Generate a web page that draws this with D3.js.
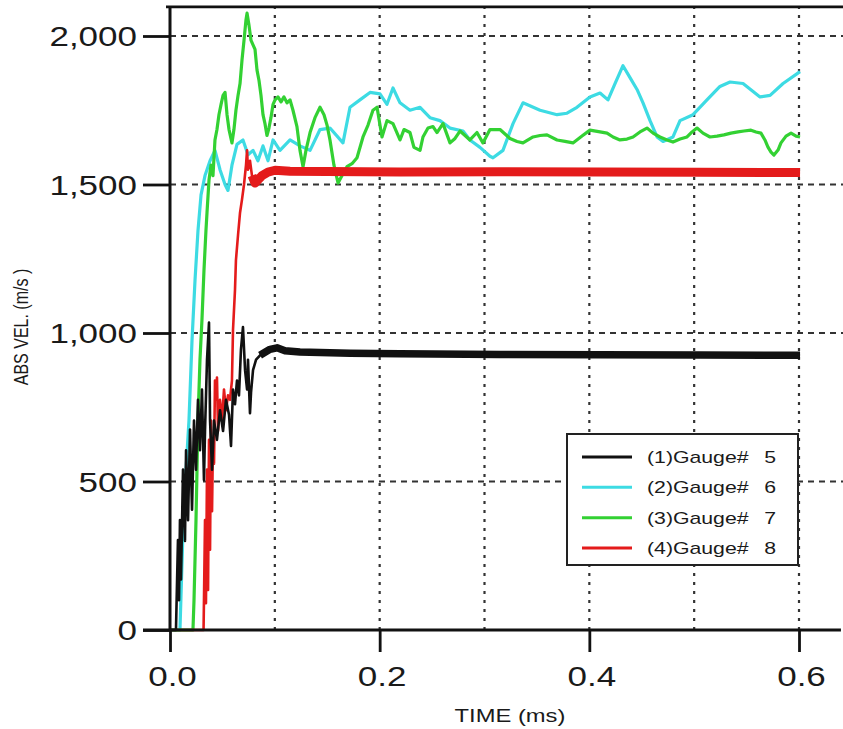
<!DOCTYPE html>
<html>
<head>
<meta charset="utf-8">
<script src="https://cdn.jsdelivr.net/npm/d3@7"></script>
<style>
  html, body { margin: 0; padding: 0; background: #fff; }
  svg { display: block; font-family: "Liberation Sans", Arial, sans-serif; }
</style>
</head>
<body>
<svg id="chart" width="843" height="729"></svg>
<script>
// Gauge velocity histories: [time (ms), absolute velocity (m/s)]
const gauge5 = [
  [0,0],[0.0057,0],[0.0076,303],[0.0086,100],[0.0095,370],[0.0105,170],[0.0124,540],
  [0.0143,300],[0.0153,605],[0.0172,370],[0.0191,675],[0.021,405],[0.0229,705],
  [0.0248,540],[0.0267,775],[0.0286,605],[0.0305,810],[0.0324,505],[0.0334,670],
  [0.0353,910],[0.0372,1035],[0.0382,705],[0.0401,540],[0.042,705],[0.0448,640],
  [0.0477,740],[0.0506,670],[0.0534,775],[0.0563,725],[0.0582,620],[0.0601,810],
  [0.062,760],[0.0639,840],[0.0658,790],[0.0677,945],[0.0696,1020],[0.0716,875],
  [0.0735,810],[0.0744,910],[0.0763,730],[0.0773,800],[0.0792,875],[0.0821,910],
  [0.0859,925],[0.0906,935],[0.0954,945],[0.1021,950],[0.1097,940],[0.124,936],
  [0.1717,932],[0.2194,930],[0.3148,928],[0.4102,927],[0.5056,926],[0.601,925]
];
const gauge6 = [
  [0,0],[0.0095,0],[0.0124,335],[0.0153,540],[0.0181,705],[0.021,975],[0.0239,1180],
  [0.0267,1345],[0.0296,1465],[0.0334,1530],[0.0382,1580],[0.0429,1615],[0.0477,1550],
  [0.0525,1500],[0.0553,1480],[0.0591,1565],[0.0639,1635],[0.0696,1650],[0.0744,1600],
  [0.0792,1615],[0.0839,1580],[0.0887,1630],[0.0935,1580],[0.0983,1650],[0.1049,1615],
  [0.1145,1650],[0.124,1630],[0.1336,1615],[0.1431,1685],[0.1526,1690],[0.165,1640],
  [0.1717,1760],[0.1812,1785],[0.1908,1810],[0.2003,1805],[0.207,1770],[0.2127,1825],
  [0.2194,1775],[0.2289,1750],[0.2385,1760],[0.248,1725],[0.2575,1715],[0.2671,1690],
  [0.2795,1680],[0.2861,1650],[0.2957,1625],[0.3052,1595],[0.3081,1590],[0.3176,1615],
  [0.3272,1705],[0.3367,1775],[0.353,1750],[0.3692,1735],[0.3787,1740],[0.3882,1760],
  [0.4006,1795],[0.4102,1808],[0.4178,1785],[0.4245,1840],[0.4321,1900],[0.4388,1860],
  [0.4455,1820],[0.4512,1775],[0.4579,1715],[0.4646,1660],[0.4703,1645],[0.4798,1660],
  [0.4865,1715],[0.4989,1735],[0.5122,1785],[0.5246,1830],[0.5342,1845],[0.5466,1840],
  [0.5628,1795],[0.5724,1800],[0.5848,1840],[0.601,1880]
];
const gauge7 = [
  [0,0],[0.0219,0],[0.0229,100],[0.0248,370],[0.0267,705],[0.0286,910],[0.0305,1045],
  [0.0324,1210],[0.0343,1345],[0.0353,1405],[0.0372,1515],[0.0391,1565],[0.041,1530],
  [0.0429,1650],[0.0448,1685],[0.0467,1735],[0.0487,1770],[0.0506,1800],[0.0525,1810],
  [0.0544,1735],[0.0563,1685],[0.0591,1640],[0.061,1685],[0.0629,1750],[0.0649,1800],
  [0.0668,1840],[0.0687,1920],[0.0706,1985],[0.0725,2055],[0.0735,2077],[0.0754,2035],
  [0.0773,1985],[0.0792,1970],[0.0811,1955],[0.083,1885],[0.0849,1850],[0.0868,1800],
  [0.0887,1735],[0.0906,1705],[0.0925,1665],[0.0944,1690],[0.0963,1725],[0.0983,1770],
  [0.1002,1785],[0.103,1795],[0.1059,1778],[0.1087,1795],[0.1116,1775],[0.1145,1785],
  [0.1173,1750],[0.1211,1695],[0.124,1615],[0.1269,1560],[0.1297,1615],[0.1336,1675],
  [0.1383,1725],[0.1431,1760],[0.1469,1735],[0.1498,1700],[0.1526,1650],[0.1564,1565],
  [0.1603,1505],[0.1641,1530],[0.1688,1560],[0.1736,1570],[0.1784,1590],[0.1841,1660],
  [0.1889,1700],[0.1936,1750],[0.1975,1760],[0.2022,1660],[0.207,1715],[0.2127,1705],
  [0.2194,1650],[0.2232,1685],[0.2289,1675],[0.2327,1625],[0.2385,1615],[0.2413,1660],
  [0.2461,1690],[0.2509,1695],[0.2547,1675],[0.2604,1705],[0.2671,1640],[0.2719,1655],
  [0.2766,1680],[0.2814,1665],[0.2861,1650],[0.2928,1675],[0.2985,1640],[0.3052,1685],
  [0.3148,1685],[0.3243,1655],[0.331,1645],[0.3367,1640],[0.3463,1660],[0.353,1665],
  [0.3596,1667],[0.3692,1650],[0.3768,1645],[0.3844,1640],[0.393,1663],[0.4006,1683],
  [0.4102,1677],[0.4169,1673],[0.4226,1660],[0.4292,1650],[0.4359,1653],[0.4417,1660],
  [0.4483,1677],[0.455,1690],[0.4608,1673],[0.4674,1660],[0.4741,1650],[0.4798,1643],
  [0.4865,1653],[0.4932,1660],[0.498,1677],[0.5027,1690],[0.5084,1673],[0.5151,1660],
  [0.5218,1663],[0.5284,1667],[0.5351,1673],[0.5418,1677],[0.5475,1680],[0.5542,1683],
  [0.559,1677],[0.5637,1673],[0.5675,1650],[0.5704,1626],[0.5733,1609],[0.5761,1599],
  [0.58,1616],[0.5828,1640],[0.5876,1663],[0.5924,1673],[0.5972,1663],[0.601,1660]
];
const gauge8 = [
  [0,0],[0.032,0],[0.0324,100],[0.0334,370],[0.0343,90],[0.0353,540],[0.0363,135],
  [0.0372,640],[0.0382,270],[0.0391,705],[0.0401,400],[0.041,640],[0.042,560],
  [0.0429,840],[0.0439,775],[0.0448,850],[0.0458,670],[0.0477,775],[0.0496,705],
  [0.0515,810],[0.0534,740],[0.0553,790],[0.0572,775],[0.0591,840],[0.0601,1010],
  [0.062,1145],[0.0629,1245],[0.0649,1330],[0.0668,1405],[0.0687,1450],[0.0706,1500],
  [0.0725,1565],[0.0735,1615],[0.0744,1550],[0.0763,1580],[0.0782,1530],[0.0811,1505],
  [0.0839,1515],[0.0878,1530],[0.0935,1542],[0.1002,1548],[0.1145,1545],[0.2194,1542],
  [0.3148,1543],[0.4102,1542],[0.5056,1541],[0.601,1540]
];

const seriesNames = ["(1)Gauge#", "(2)Gauge#", "(3)Gauge#", "(4)Gauge#"];
const gaugeNumbers = ["5", "6", "7", "8"];
const seriesColors = ["#111111", "#3ddbe3", "#33d133", "#e41b1b"];
const xTicks = [0, 0.2, 0.4, 0.6];
const xGrid = [0.1, 0.2, 0.3, 0.4, 0.5, 0.6];
const yTicks = [0, 500, 1000, 1500, 2000];
const yGrid = [500, 1000, 1500, 2000];

const svg = d3.select("#chart");
const stretch = 1.25; // horizontal text stretch used throughout

const x = d3.scaleLinear().domain([0, 0.6]).range([170, 799]);
const y = d3.scaleLinear().domain([0, 2000]).range([630, 36]);
const xEnd = 0.64, yTop = 2098;
const x0 = x(0), x1 = x(xEnd), y0 = y(0), y1 = y(yTop);

// clip region for the traces
svg.append("defs").append("clipPath").attr("id", "plot")
  .append("rect").attr("x", x0).attr("y", y1).attr("width", x1 - x0 + 10).attr("height", y0 - y1 + 2);

// grid
const grid = svg.append("g").attr("stroke", "#333").attr("stroke-width", 2.2);
grid.selectAll("line.h").data(yGrid).join("line")
  .attr("x1", x0).attr("x2", 843).attr("y1", d => y(d)).attr("y2", d => y(d))
  .attr("stroke-dasharray", "6,5");
grid.selectAll("line.v").data(xGrid).join("line")
  .attr("x1", d => x(d)).attr("x2", d => x(d)).attr("y1", y0).attr("y2", y1)
  .attr("stroke-dasharray", "3,6");

// traces (the settled part of gauges 5 and 8 is drawn as a wider noise band)
const line = d3.line().x(d => x(d[0])).y(d => y(d[1]));
const traces = svg.append("g").attr("clip-path", "url(#plot)").attr("fill", "none")
  .attr("stroke-linejoin", "round");
const order = [
  {data: gauge6, c: 1, w: 3.2, band: 0},
  {data: gauge7, c: 2, w: 3.2, band: 0},
  {data: gauge8, c: 3, w: 2.6, band: 9, from: 0.078},
  {data: gauge5, c: 0, w: 2.6, band: 7.5, from: 0.083}
];
order.forEach(s => {
  traces.append("path").attr("d", line(s.data))
    .attr("stroke", seriesColors[s.c]).attr("stroke-width", s.w);
  if (s.band) {
    traces.append("path").attr("d", line(s.data.filter(d => d[0] >= s.from)))
      .attr("stroke", seriesColors[s.c]).attr("stroke-width", s.band);
  }
});

// frame: top border
svg.append("line").attr("x1", x0 - 4).attr("x2", 843).attr("y1", y1).attr("y2", y1)
  .attr("stroke", "#111").attr("stroke-width", 2.6);

// axes
const yAxis = svg.append("g").attr("transform", `translate(${x0},0)`)
  .call(d3.axisLeft(y).tickValues(yTicks).tickSize(27).tickPadding(0)
    .tickFormat(d3.format(",")));
yAxis.select(".domain").remove();
yAxis.append("line").attr("x1", 0).attr("x2", 0).attr("y1", y0 + 1).attr("y2", y1)
  .attr("stroke", "#111").attr("stroke-width", 3);
yAxis.selectAll(".tick line").attr("stroke", "#111").attr("stroke-width", 2.8);
yAxis.selectAll(".tick text")
  .attr("x", -33 / stretch).attr("dy", "0.35em")
  .attr("transform", `scale(${stretch},1)`)
  .attr("fill", "#1a1a1a").attr("font-size", 28).attr("font-family", "Liberation Sans, Arial, sans-serif");

const xAxis = svg.append("g").attr("transform", `translate(0,${y0})`)
  .call(d3.axisBottom(x).tickValues(xTicks).tickSize(22).tickFormat(d3.format(".1f")));
xAxis.select(".domain").remove();
xAxis.append("line").attr("x1", x0 - 27).attr("x2", x1).attr("y1", 0).attr("y2", 0)
  .attr("stroke", "#111").attr("stroke-width", 3);
xAxis.selectAll(".tick line").attr("stroke", "#111").attr("stroke-width", 2.8);
xAxis.selectAll(".tick text")
  .attr("y", 56).attr("dy", 0).attr("x", 2 / stretch)
  .attr("transform", `scale(${stretch},1)`)
  .attr("fill", "#1a1a1a").attr("font-size", 28).attr("font-family", "Liberation Sans, Arial, sans-serif");

// axis titles
svg.append("text")
  .attr("transform", `translate(28,327) scale(${stretch},1) rotate(-90)`)
  .attr("text-anchor", "middle").attr("font-size", 16).attr("fill", "#1a1a1a")
  .text("ABS VEL. (m/s )");
svg.append("text")
  .attr("transform", `translate(510,722) scale(${stretch},1)`)
  .attr("text-anchor", "middle").attr("font-size", 19).attr("fill", "#1a1a1a")
  .text("TIME (ms)");

// legend
const legend = svg.append("g");
legend.append("rect").attr("x", 567).attr("y", 434).attr("width", 231).attr("height", 131)
  .attr("fill", "#fff").attr("stroke", "#222").attr("stroke-width", 2);
const rowY = d3.scalePoint().domain(d3.range(seriesNames.length)).range([457, 548]);
const rows = legend.selectAll("g.row").data(seriesNames).join("g")
  .attr("transform", (d, i) => `translate(0,${rowY(i)})`);
rows.append("line").attr("x1", 582).attr("x2", 632).attr("y1", 0).attr("y2", 0)
  .attr("stroke", (d, i) => seriesColors[i]).attr("stroke-width", 3);
rows.append("text").attr("transform", `translate(647,0) scale(${stretch},1)`)
  .attr("dy", "0.35em").attr("font-size", 17).attr("fill", "#1a1a1a").text(d => d);
rows.append("text").attr("transform", `translate(776,0) scale(${stretch},1)`)
  .attr("dy", "0.35em").attr("text-anchor", "end").attr("font-size", 17).attr("fill", "#1a1a1a")
  .text((d, i) => gaugeNumbers[i]);
</script>
</body>
</html>
